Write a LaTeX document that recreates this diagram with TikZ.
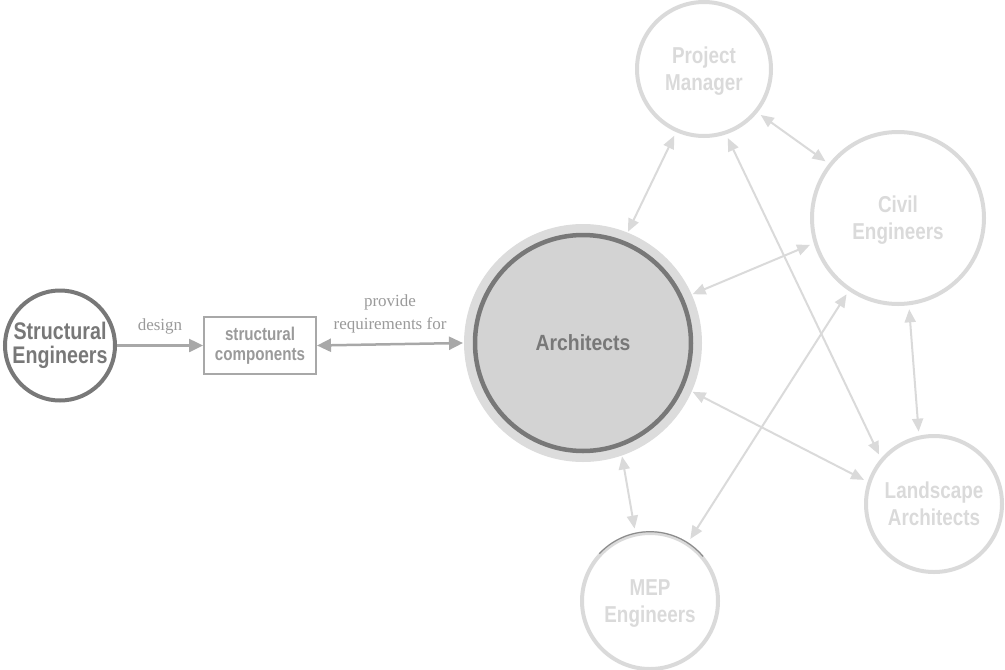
\documentclass[tikz,border=0pt]{standalone}
\usepackage{fontspec}
\setmainfont{Liberation Serif}
\newfontfamily\condfont[FakeStretch=0.82]{Liberation Sans}
\newfontfamily\archfont[FakeStretch=0.88]{Liberation Sans}
\usetikzlibrary{arrows.meta}
\definecolor{darkg}{HTML}{787878}
\definecolor{midg}{HTML}{A8A8A8}
\definecolor{txtg}{HTML}{9A9A9A}
\definecolor{lightg}{HTML}{DADADA}
\definecolor{archfill}{HTML}{D3D3D3}
\definecolor{halo}{HTML}{DCDCDC}
\begin{document}
\begin{tikzpicture}[x=1pt,y=-1pt,
  lightnode/.style={circle, draw=lightg, line width=4pt, text=lightg, inner sep=0pt, outer sep=6pt, align=center,
    text depth=0pt, font=\condfont\bfseries\fontsize{23}{27}\selectfont},
  archnode/.style={circle, minimum size=216pt, fill=archfill, draw=darkg, line width=4.5pt,
    preaction={draw=halo, line width=22pt}, outer sep=12pt, inner sep=0pt, text=darkg,
    font=\archfont\bfseries\fontsize{22}{26}\selectfont},
  senode/.style={circle, draw=darkg, line width=4pt, minimum size=110pt, inner sep=0pt, outer sep=2pt,
    text=darkg, align=center, font=\condfont\bfseries\fontsize{24}{24}\selectfont},
  boxnode/.style={draw=midg, line width=2pt, minimum width=112pt, minimum height=57pt, inner sep=0pt, outer sep=1pt,
    text=txtg, align=center, font=\condfont\bfseries\fontsize{18.5}{20}\selectfont},
  lbl/.style={inner sep=0pt, text=txtg, align=center, font=\fontsize{17}{23}\selectfont},
  darrow/.style={draw=midg, line width=2.5pt},
  larrow/.style={draw=lightg, line width=2pt, {Triangle[length=13pt,width=11pt]}-{Triangle[length=13pt,width=11pt]}}
]
\useasboundingbox (0,0) rectangle (1005,670);

% nodes
\node[senode] (se) at (60,345.5) {Structural\\Engineers};
\node[boxnode] (box) at (260,345.5) {structural\\components};
\node[archnode] (arch) at (583,343) {Architects};
\node[lightnode, minimum size=134pt] (pm) at (704,69) {Project\\Manager};
\node[lightnode, minimum size=172pt] (civil) at (898,218) {Civil\\Engineers};
\node[lightnode, minimum size=136pt] (land) at (934,504) {Landscape\\Architects};
\node[lightnode, minimum size=136pt] (mep) at (650,601) {MEP\\Engineers};

% shadow arc at top of MEP circle
\draw[darkg!85, line width=1.2pt] ([shift={(137:69.3pt)}]mep.center) arc[start angle=137, end angle=40, radius=69.3pt];

% dark connectors
\draw[darrow, -{Triangle[length=14pt,width=13pt]}] (se.east) -- node[lbl, above=10pt] {design} (box.west);
\draw[darrow, {Triangle[length=14pt,width=13pt]}-{Triangle[length=14pt,width=13pt]}] (box.east) -- node[lbl, above=10pt] {provide\\requirements for} (arch.west);

% light connectors
\draw[larrow] (arch.68.7) -- (pm.246.6);
\draw[larrow] (pm.-39.3) -- (civil.142);
\draw[larrow] (pm.-71.6) -- (land.138.4);
\draw[larrow] (arch.24.1) -- (civil.197.9);
\draw[larrow] (civil.-83.9) -- (land.102.5);
\draw[larrow] (arch.-24.1) -- (land.161.1);
\draw[larrow] (civil.236.3) -- (mep.57.5);
\draw[larrow] (arch.-71) -- (mep.102.6);
\end{tikzpicture}
\end{document}
